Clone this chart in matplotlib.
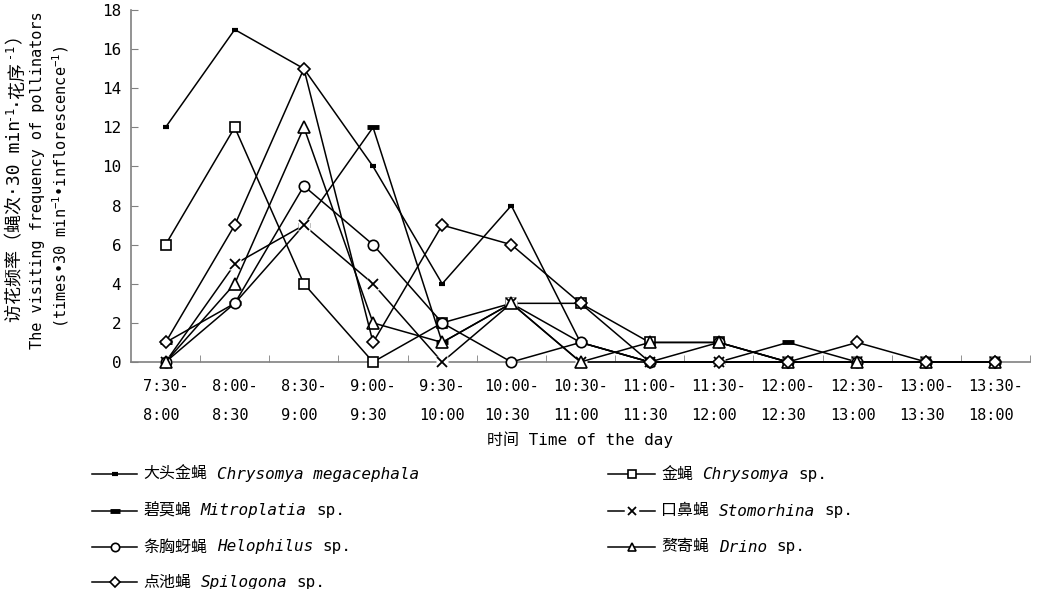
import matplotlib
matplotlib.use("Agg")
import matplotlib.pyplot as plt
from matplotlib.lines import Line2D

W, H = 1041, 589
plt.rcParams["font.family"] = ["DejaVu Sans Mono", "Noto Sans CJK SC"]
plt.rcParams["axes.unicode_minus"] = False
plt.rcParams["mathtext.fontset"] = "custom"
plt.rcParams["mathtext.rm"] = "DejaVu Sans Mono"
plt.rcParams["mathtext.it"] = "DejaVu Sans Mono:italic"

# Half-hour observation periods
time_labels = ["7:30-\n8:00", "8:00-\n8:30", "8:30-\n9:00", "9:00-\n9:30",
               "9:30-\n10:00", "10:00-\n10:30", "10:30-\n11:00", "11:00-\n11:30",
               "11:30-\n12:00", "12:00-\n12:30", "12:30-\n13:00", "13:00-\n13:30",
               "13:30-\n18:00"]

# Visits per 30 min per inflorescence
chrysomya_megacephala = [12, 17, 15, 10, 4, 8, 1, 0, 0, 0, 0, 0, 0]
chrysomya_sp = [6, 12, 4, 0, 2, 3, 3, 1, 1, 0, 0, 0, 0]
mitroplatia_sp = [1, 3, 7, 12, 1, 3, 1, 0, 0, 1, 0, 0, 0]
stomorhina_sp = [0, 5, 7, 4, 0, 3, 0, 0, 0, 0, 0, 0, 0]
helophilus_sp = [0, 3, 9, 6, 2, 0, 1, 0, 1, 0, 0, 0, 0]
drino_sp = [0, 4, 12, 2, 1, 3, 0, 1, 1, 0, 0, 0, 0]
spilogona_sp = [1, 7, 15, 1, 7, 6, 3, 0, 0, 0, 1, 0, 0]

y_ticks = list(range(0, 19, 2))

fig = plt.figure(figsize=(W / 100, H / 100), dpi=100)
ax = fig.add_axes([131 / W, 1 - 362 / H, (1030 - 131) / W, (362 - 10) / H])
renderer = fig.canvas.get_renderer()

open_mk = dict(mfc="white", mec="black")
styles = {
    "megacephala": dict(marker="_", ms=5, mew=3, mec="black"),
    "chrysomya": dict(marker="s", ms=7, mew=1.2, **open_mk),
    "mitroplatia": dict(marker="_", ms=9, mew=3.5, mec="black"),
    "stomorhina": dict(marker="x", ms=7, mew=1.3, mec="black"),
    "helophilus": dict(marker="o", ms=7.5, mew=1.2, **open_mk),
    "drino": dict(marker="^", ms=8, mew=1.2, **open_mk),
    "spilogona": dict(marker="D", ms=6.3, mew=1.2, **open_mk),
}

series = [
    (chrysomya_megacephala, "megacephala"),
    (chrysomya_sp, "chrysomya"),
    (mitroplatia_sp, "mitroplatia"),
    (stomorhina_sp, "stomorhina"),
    (helophilus_sp, "helophilus"),
    (drino_sp, "drino"),
    (spilogona_sp, "spilogona"),
]

x = list(range(len(time_labels)))
for i, (vals, key) in enumerate(series):
    z = 3 + i
    if key == "stomorhina":
        # white backing behind the cross markers
        ax.plot(x, vals, ls="none", marker="s", ms=8, mfc="white", mec="none",
                zorder=z + 0.5, clip_on=False)
        ax.plot(x, vals, color="black", lw=1.1, zorder=z, clip_on=False)
        ax.plot(x, vals, ls="none", zorder=z + 0.6, clip_on=False, **styles[key])
    else:
        ax.plot(x, vals, color="black", lw=1.1, zorder=z, clip_on=False, **styles[key])

ax.set_xlim(-0.5, len(time_labels) - 0.5)
ax.set_ylim(0, 18)
ax.set_yticks(y_ticks)
ax.set_xticks(x)
ax.set_xticklabels(time_labels, linespacing=2.2, fontsize=11, ha="center",
                   multialignment="left")
ax.set_xticks([k + 0.5 for k in x], minor=True)
ax.tick_params(axis="x", which="major", length=0, pad=12)
ax.tick_params(axis="x", which="minor", direction="in", length=5, color="#808080")
ax.tick_params(axis="y", direction="in", length=5, color="#808080", labelsize=11.5, pad=7)
for s in ("top", "right"):
    ax.spines[s].set_visible(False)
for s in ("left", "bottom"):
    ax.spines[s].set_color("#808080")
    ax.spines[s].set_linewidth(1.2)
    ax.spines[s].set_zorder(1)


def vertical_pieces(x_base, y_center, pieces):
    """Rotated title built from pieces (text, size, offset_px); offset lifts superscripts."""
    texts = []
    total = 0.0
    for txt, size, off in pieces:
        t = fig.text(0, 0, txt, rotation=90, rotation_mode="anchor", ha="left",
                     va="baseline", fontsize=size)
        h = t.get_window_extent(renderer=renderer).height
        texts.append((t, h, off))
        total += h
    y = y_center + total / 2  # pixel row (from top) where the text starts
    for t, h, off in texts:
        t.set_position(((x_base - off) / W, 1 - y / H))
        y -= h


# y-axis title (three lines)
vertical_pieces(20, 174, [("访花频率（蝇次·30 min", 13, 0), ("-1", 8.5, 7),
                          ("·花序", 13, 0), ("-1", 8.5, 7), ("）", 13, 0)])
fig.text(38 / W, 1 - 180 / H, "The visiting frequency of pollinators", rotation=90,
         ha="center", va="center", fontsize=11)
fig.text(61 / W, 1 - 187 / H, "(times•30 min$^{-1}$•inflorescence$^{-1}$)", rotation=90,
         ha="center", va="center", fontsize=11)

fig.text(580 / W, 1 - 440 / H, "时间 Time of the day", ha="center", va="center",
         fontsize=11.5)

# legend drawn in figure coordinates
LEG_SIZE = 11.5
space_px = 0.6 * LEG_SIZE * 100 / 72


def legend_entry(x0, x1, y, key, pieces):
    st = dict(styles[key])
    st["ms"] = st["ms"] * 0.8
    fy = 1 - y / H
    xm = (x0 + x1) / 2
    if key == "stomorhina":
        fig.add_artist(Line2D([x0 / W, (xm - 8) / W], [fy, fy], color="black", lw=1.1))
        fig.add_artist(Line2D([(xm + 8) / W, x1 / W], [fy, fy], color="black", lw=1.1))
        fig.add_artist(Line2D([xm / W], [fy], ls="none", **st))
    else:
        fig.add_artist(Line2D([x0 / W, xm / W, x1 / W], [fy, fy, fy], color="black",
                              lw=1.1, markevery=[1], **st))
    xt = x1 + 6
    for k, (txt, style) in enumerate(pieces):
        if k > 0:
            xt += space_px
        t = fig.text(xt / W, fy, txt, fontsize=LEG_SIZE, style=style,
                     ha="left", va="center")
        xt += t.get_window_extent(renderer=renderer).width


rows = [474, 511, 547, 582]
legend_entry(92, 137, rows[0], "megacephala",
             [("大头金蝇", "normal"), ("Chrysomya megacephala", "italic")])
legend_entry(92, 137, rows[1], "mitroplatia",
             [("碧莫蝇", "normal"), ("Mitroplatia", "italic"), ("sp.", "normal")])
legend_entry(92, 137, rows[2], "helophilus",
             [("条胸蚜蝇", "normal"), ("Helophilus", "italic"), ("sp.", "normal")])
legend_entry(92, 137, rows[3], "spilogona",
             [("点池蝇", "normal"), ("Spilogona", "italic"), ("sp.", "normal")])
legend_entry(608, 655, rows[0], "chrysomya",
             [("金蝇", "normal"), ("Chrysomya", "italic"), ("sp.", "normal")])
legend_entry(608, 655, rows[1], "stomorhina",
             [("口鼻蝇", "normal"), ("Stomorhina", "italic"), ("sp.", "normal")])
legend_entry(608, 655, rows[2], "drino",
             [("赘寄蝇", "normal"), ("Drino", "italic"), ("sp.", "normal")])

fig.savefig("out.png", dpi=100)
